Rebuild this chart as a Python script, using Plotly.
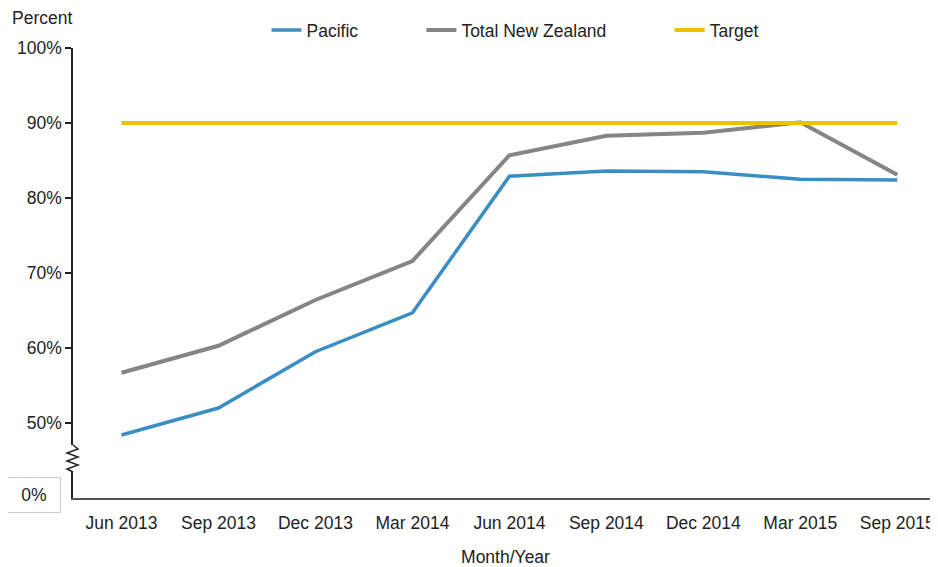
import plotly.graph_objects as go

categories = ["Jun 2013", "Sep 2013", "Dec 2013", "Mar 2014", "Jun 2014",
              "Sep 2014", "Dec 2014", "Mar 2015", "Sep 2015"]
pacific = [48.4, 52.0, 59.5, 64.7, 82.9, 83.6, 83.5, 82.5, 82.4]
total_nz = [56.7, 60.3, 66.4, 71.6, 85.7, 88.3, 88.7, 90.1, 83.1]
target = [90, 90, 90, 90, 90, 90, 90, 90, 90]
y_ticks = [50, 60, 70, 80, 90, 100]
y_tick_labels = ["50%", "60%", "70%", "80%", "90%", "100%"]

FONT = "Liberation Sans, Arial, sans-serif"
FS = 17.5
TXT = "#222222"
PAD = "\u00a0" * 12

# The page body adds an 8px offset; plot area (window px): x 73..938, y 48..498
L, T, W, H = 73.0, 48.0, 865.0, 450.0
def px(X):
    return (X - L) / W
def py(Y):
    return (T + H - Y) / H

fig = go.Figure()
fig.add_trace(go.Scatter(x=categories, y=pacific, mode="lines", name="Pacific" + PAD,
                         line=dict(color="#3a8ec3", width=3.5)))
fig.add_trace(go.Scatter(x=categories, y=total_nz, mode="lines", name="Total New Zealand" + PAD,
                         line=dict(color="#858585", width=4)))
fig.add_trace(go.Scatter(x=categories, y=target, mode="lines", name="Target",
                         line=dict(color="#f3bd00", width=4)))

fig.update_layout(
    width=930, height=559,
    margin=dict(l=65, r=0, t=40, b=69),
    paper_bgcolor="white", plot_bgcolor="white",
    font=dict(family=FONT, size=FS, color=TXT),
    hovermode=False,
    showlegend=True,
    legend=dict(orientation="h", x=px(515), xanchor="center", y=py(30), yanchor="middle",
                font=dict(size=FS, color=TXT), itemwidth=30,
                bgcolor="rgba(0,0,0,0)"),
    xaxis=dict(type="category", range=[-0.5, 8.42], showgrid=False, zeroline=False,
               showline=True, linecolor="#555555", linewidth=2, ticks="",
               ticklabelstandoff=8,
               tickfont=dict(size=FS, color=TXT),
               title=dict(text="Month/Year", font=dict(size=FS, color=TXT), standoff=20)),
    yaxis=dict(range=[40, 100], tickvals=y_ticks, ticktext=y_tick_labels, showgrid=False,
               zeroline=False, showline=True, linecolor=TXT, linewidth=1.5,
               ticks="outside", ticklen=6, tickcolor=TXT, tickwidth=1.5,
               tickfont=dict(size=FS, color=TXT)),
)

# "Percent" axis label
fig.add_annotation(text="Percent", xref="paper", yref="paper", x=px(10), y=py(18),
                   xanchor="left", yanchor="middle", showarrow=False,
                   font=dict(size=FS, color=TXT))
# 0% label in a box at the baseline
fig.add_annotation(text="0%", xref="paper", yref="paper", x=px(34), y=py(495),
                   xanchor="center", yanchor="middle", showarrow=False,
                   font=dict(size=FS, color=TXT),
                   bordercolor="#cccccc", borderwidth=1, borderpad=7,
                   width=38, align="center")
# axis break: white gap and zigzag
fig.add_shape(type="rect", xref="paper", yref="paper", x0=px(70), x1=px(76),
              y0=py(472), y1=py(445), line=dict(width=0), fillcolor="white", layer="above")
pts = [(73, 445), (78, 449), (67, 453), (78, 457), (67, 461), (78, 465), (67, 469), (73, 472)]
path = "M " + " L ".join(f"{px(a):.5f},{py(b):.5f}" for a, b in pts)
fig.add_shape(type="path", xref="paper", yref="paper", path=path,
              line=dict(color=TXT, width=1.5), layer="above")

fig.write_html("out.html")
